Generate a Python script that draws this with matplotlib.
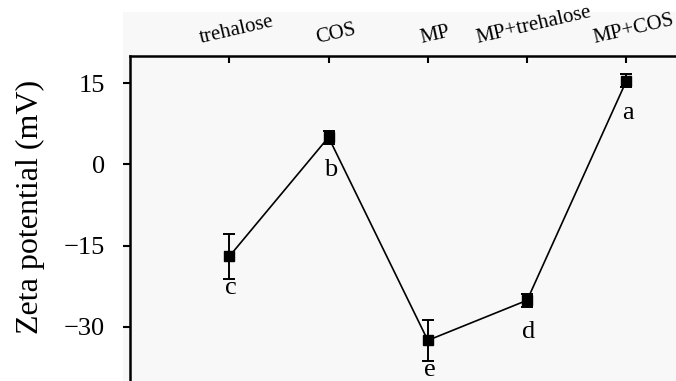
import matplotlib
matplotlib.use("Agg")
import matplotlib.pyplot as plt
from matplotlib.patches import Rectangle
from matplotlib.transforms import ScaledTranslation

# données
categories = ["trehalose", "COS", "MP", "MP+trehalose", "MP+COS"]
zeta = [-17.0, 5.0, -32.5, -25.1, 15.4]
zeta_err = [4.2, 1.2, 3.8, 1.2, 1.2]
letters = ["c", "b", "e", "d", "a"]
letter_y = [-22.9, -1.1, -37.9, -31.0, 9.4]
yticks = [-30, -15, 0, 15]

plt.rcParams["font.family"] = ["Liberation Serif", "DejaVu Serif"]

fig = plt.figure(figsize=(6.76, 3.81), dpi=100)
# fond gris clair derrière la zone du graphe
bg = Rectangle((123/676, 0), 1, 1 - 12/381, transform=fig.transFigure,
               facecolor="#f8f8f8", edgecolor="none", zorder=-10)
fig.add_artist(bg)

ax = fig.add_axes([130/676, 0, 1 - 130/676, 1 - 56/381])
ax.set_facecolor("#f8f8f8")

x = list(range(len(categories)))
ax.errorbar(x, zeta, yerr=zeta_err, color="black", lw=1.2, marker="s", ms=6.5,
            elinewidth=1.4, capsize=4, capthick=1.4)

for xi, ly, lt in zip(x, letter_y, letters):
    ax.text(xi + 0.02, ly, lt, ha="center", va="center", fontsize=19)

ax.set_xlim(-1, 4.5)
ax.set_ylim(-40, 20)
ax.set_yticks(yticks)
ax.set_yticklabels([str(v).replace("-", "\u2212") for v in yticks], fontsize=19)
ax.tick_params(axis="y", direction="out", length=5, width=1.5, pad=13)

ax.xaxis.tick_top()
ax.set_xticks(x)
ax.set_xticklabels(categories, rotation=13, fontsize=15)
ax.tick_params(axis="x", direction="in", length=5, width=1.5, pad=6)
offset = ScaledTranslation(7/100, 0, fig.dpi_scale_trans)
for lbl in ax.get_xticklabels():
    lbl.set_transform(lbl.get_transform() + offset)

for side in ["right", "bottom"]:
    ax.spines[side].set_visible(False)
for side in ["left", "top"]:
    ax.spines[side].set_linewidth(1.8)

ax.set_ylabel("Zeta potential (mV)", fontsize=23)
ax.yaxis.set_label_coords(-(130 - 45)/546, 1 - (207 - 56)/325)

fig.savefig("out.png", dpi=100)
